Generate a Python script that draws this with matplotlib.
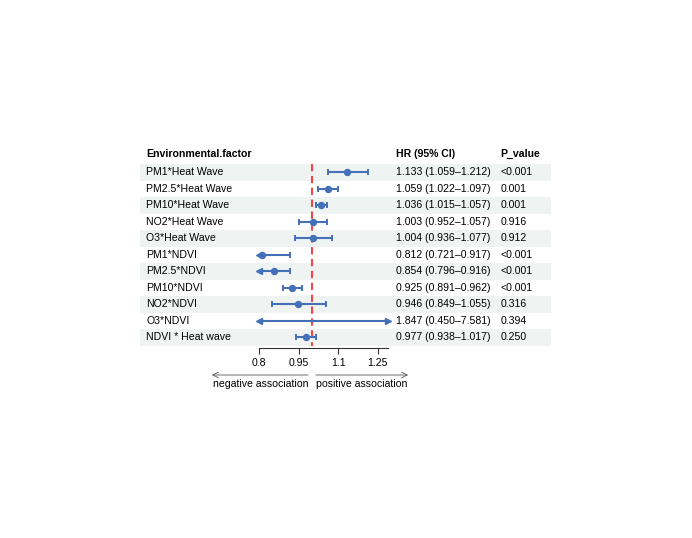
import numpy as np
import matplotlib
matplotlib.use('Agg')
from matplotlib import pyplot as plt
from matplotlib import transforms

plt.rcParams['font.family'] = ['Liberation Sans', 'DejaVu Sans']

factors = ['PM1*Heat Wave', 'PM2.5*Heat Wave', 'PM10*Heat Wave',
           'NO2*Heat Wave', 'O3*Heat Wave', 'PM1*NDVI', 'PM2.5*NDVI',
           'PM10*NDVI', 'NO2*NDVI', 'O3*NDVI', 'NDVI * Heat wave']
hr = [1.133, 1.059, 1.036, 1.003, 1.004, 0.812, 0.854, 0.925, 0.946, 1.847, 0.977]
ci_lo = [1.059, 1.022, 1.015, 0.952, 0.936, 0.721, 0.796, 0.891, 0.849, 0.450, 0.938]
ci_hi = [1.212, 1.097, 1.057, 1.057, 1.077, 0.917, 0.916, 0.962, 1.055, 7.581, 1.017]
p_value = ['<0.001', '0.001', '0.001', '0.916', '0.912', '<0.001', '<0.001',
           '<0.001', '0.316', '0.394', '0.250']
x_ticks = [0.8, 0.95, 1.1, 1.25]
x_lim = (0.8, 1.3)
ref_line = 1.0

BLUE = '#4470b8'
RED = '#f0474a'
BAND = '#eff3f2'
FS = 7.6

W, H = 692, 538
fig = plt.figure(figsize=(W / 100, H / 100), dpi=100)

n = len(factors)
ylim = (n - 0.5, -1.6)
tab_l, tab_r = 140, 551
row_h = 16.5
bot_px = 345.5
top_px = bot_px - (ylim[0] - ylim[1]) * row_h
ax_h = bot_px - top_px


def fig_box(x0, x1):
    return [x0 / W, 1 - bot_px / H, (x1 - x0) / W, ax_h / H]


# table / background
tab = fig.add_axes(fig_box(tab_l, tab_r))
tab.set_xlim(tab_l, tab_r)
tab.set_ylim(ylim)
tab.axis('off')
for i in range(n):
    if i % 2 == 0:
        tab.axhspan(i - 0.5, i + 0.5, color=BAND, lw=0, zorder=0)
col_x = {'factor': 146.5, 'hr': 396, 'p': 500.5}
head_y = -1.09
tab.text(col_x['factor'], head_y, 'Environmental.factor', fontsize=FS,
         fontweight='bold', va='center', ha='left')
tab.text(col_x['hr'], head_y, 'HR (95% CI)', fontsize=FS,
         fontweight='bold', va='center', ha='left')
tab.text(col_x['p'], head_y, 'P_value', fontsize=FS,
         fontweight='bold', va='center', ha='left')
for i in range(n):
    tab.text(col_x['factor'], i, factors[i], fontsize=FS, va='center', ha='left')
    tab.text(col_x['hr'], i, '%.3f (%.3f\u2013%.3f)' % (hr[i], ci_lo[i], ci_hi[i]),
             fontsize=FS, va='center', ha='left')
    tab.text(col_x['p'], i, p_value[i], fontsize=FS, va='center', ha='left')

# forest
x0_px, x1_px = 259.3, 391.0
ax = fig.add_axes(fig_box(x0_px, x1_px))
ax.patch.set_alpha(0)
ax.set_xlim(x_lim)
ax.set_ylim(ylim)
for s in ['top', 'left', 'right']:
    ax.spines[s].set_visible(False)
ax.spines['bottom'].set_position(('outward', 2))
ax.spines['bottom'].set_bounds(x_lim[0], 1.29)
ax.spines['bottom'].set_linewidth(0.8)
ax.spines['bottom'].set_color('#333333')
ax.set_yticks([])
ax.set_xticks(x_ticks)
ax.set_xticklabels([str(t) for t in x_ticks], fontsize=FS)
ax.tick_params(axis='x', length=4.5, width=0.8, color='#333333', pad=2.5)

ax.vlines(ref_line, -0.5, n - 0.5, colors=RED, linestyles=(0, (3.5, 2.2)),
          lw=1.5, zorder=1, clip_on=False)

x_end = 1.29
for i in range(n):
    lo = max(ci_lo[i], x_lim[0])
    hi = min(ci_hi[i], x_end)
    ax.plot([lo, hi], [i, i], color=BLUE, lw=1.5, zorder=3, solid_capstyle='butt')
    if ci_lo[i] < x_lim[0]:
        ax.plot(lo, i, marker='<', color=BLUE, ms=4, zorder=3, clip_on=False)
    else:
        ax.plot(lo, i, marker='|', color=BLUE, ms=5, mew=1.4, zorder=3)
    if ci_hi[i] > x_end:
        ax.plot(hi, i, marker='>', color=BLUE, ms=4, zorder=3, clip_on=False)
    else:
        ax.plot(hi, i, marker='|', color=BLUE, ms=5, mew=1.4, zorder=3)
    if x_lim[0] <= hr[i] <= x_end:
        ax.plot(hr[i], i, marker='o', color=BLUE, ms=4.3, zorder=4)

# direction arrows under the axis
tr = transforms.blended_transform_factory(ax.transData, ax.transAxes)
arrow_y = -29.5 / ax_h
text_y = -38.5 / ax_h
ax.annotate('', xy=(0.62, arrow_y), xytext=(ref_line - 0.015, arrow_y),
            xycoords=tr, textcoords=tr, annotation_clip=False,
            arrowprops=dict(arrowstyle='->', color='#555555', lw=0.6,
                            shrinkA=0, shrinkB=0))
ax.annotate('', xy=(1.365, arrow_y), xytext=(ref_line + 0.015, arrow_y),
            xycoords=tr, textcoords=tr, annotation_clip=False,
            arrowprops=dict(arrowstyle='->', color='#555555', lw=0.6,
                            shrinkA=0, shrinkB=0))
ax.text(ref_line - 0.015, text_y, 'negative association', transform=tr,
        fontsize=FS, ha='right', va='center')
ax.text(ref_line + 0.015, text_y, 'positive association', transform=tr,
        fontsize=FS, ha='left', va='center')

fig.savefig('out.png', dpi=100)
